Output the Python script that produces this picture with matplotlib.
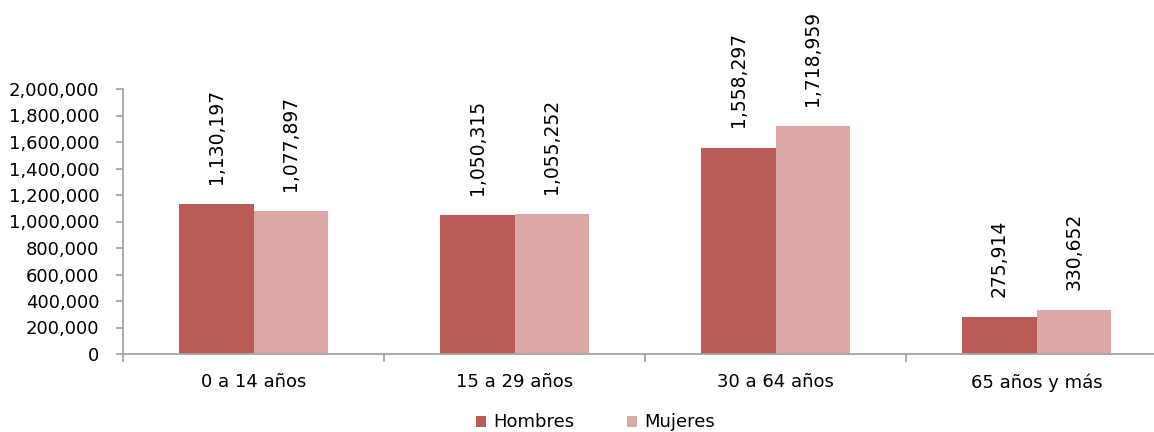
import matplotlib
matplotlib.use("Agg")
import matplotlib.pyplot as plt
import numpy as np
from matplotlib.ticker import FuncFormatter, FixedLocator
from matplotlib.patches import Patch

categories = ["0 a 14 años", "15 a 29 años", "30 a 64 años", "65 años y más"]
hombres = [1130197, 1050315, 1558297, 275914]
mujeres = [1077897, 1055252, 1718959, 330652]
series_names = ["Hombres", "Mujeres"]
colors = ["#BA5B56", "#DCA8A5"]
yticks = list(range(0, 2000001, 200000))

plt.rcParams['font.family'] = ['DejaVu Sans']
FS = 13

W, H = 1154, 432
fig = plt.figure(figsize=(W / 100, H / 100), dpi=100)
left, right, bottom, top = 123, 1167, 354, 89
ax = fig.add_axes([left / W, (H - bottom) / H, (right - left) / W, (bottom - top) / H])

x = np.arange(len(categories))
bw = 0.286
b1 = ax.bar(x - bw / 2, hombres, bw, color=colors[0], label=series_names[0])
b2 = ax.bar(x + bw / 2, mujeres, bw, color=colors[1], label=series_names[1])

for bars, vals in ((b1, hombres), (b2, mujeres)):
    for rect, v in zip(bars, vals):
        ax.annotate(f"{v:,}", (rect.get_x() + rect.get_width() / 2, rect.get_height()),
                    xytext=(0, 14.5), textcoords="offset points", rotation=90,
                    ha="center", va="bottom", fontsize=13.5, color="black")

ax.set_xlim(-0.5, len(categories) - 0.5)
ax.set_ylim(0, 2000000)
ax.set_yticks(yticks)
ax.yaxis.set_major_formatter(FuncFormatter(lambda v, p: f"{int(v):,}"))

ax.set_xticks(x)
ax.set_xticklabels(categories)
ax.xaxis.set_minor_locator(FixedLocator(np.arange(-0.5, len(categories), 1.0)))

gray = "#A6A6A6"
for s in ("top", "right"):
    ax.spines[s].set_visible(False)
for s in ("left", "bottom"):
    ax.spines[s].set_color(gray)
    ax.spines[s].set_linewidth(1.3)

ax.tick_params(axis="y", which="major", length=5, width=1.3, color=gray,
               labelsize=FS, pad=12, direction="out")
ax.tick_params(axis="x", which="major", length=0, labelsize=FS, pad=14)
ax.tick_params(axis="x", which="minor", length=6, width=1.3, color=gray, direction="out")

handles = [Patch(facecolor=colors[0]), Patch(facecolor=colors[1])]
fig.legend(handles, series_names, loc="center", bbox_to_anchor=(0.516, 0.022),
           ncol=2, frameon=False, fontsize=FS, handlelength=0.55, handleheight=0.55,
           handletextpad=0.4, columnspacing=2.9, borderpad=0)

fig.savefig("out.png", dpi=100)
